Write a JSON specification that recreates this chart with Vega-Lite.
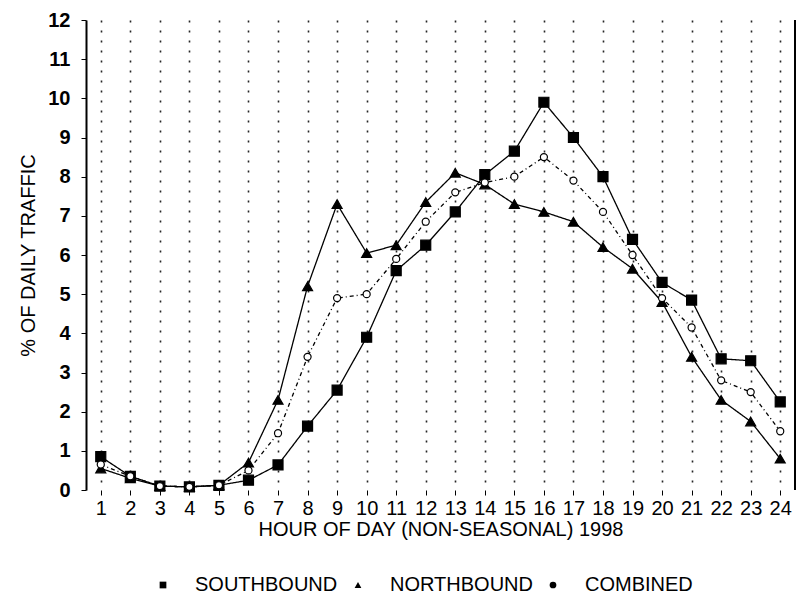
{
  "$schema": "https://vega.github.io/schema/vega-lite/v6.json",
  "autosize": "none",
  "width": 709,
  "height": 470,
  "padding": {"left": 86, "top": 20, "right": 6, "bottom": 105},
  "background": "white",
  "config": {
    "view": {"stroke": null},
    "font": "Liberation Sans",
    "axis": {"labelFont": "Liberation Sans", "titleFont": "Liberation Sans", "labelColor": "black", "titleColor": "black", "domainColor": "black", "tickColor": "black"},
    "legend": {
      "labelFont": "Liberation Sans", "orient": "none", "direction": "horizontal",
      "legendX": 67, "legendY": 555,
      "labelFontSize": 20, "labelColor": "black",
      "symbolSize": 45, "symbolFillColor": "black", "symbolStrokeColor": "black", "symbolStrokeWidth": 1,
      "columnPadding": 10, "labelOffset": 22, "title": null
    }
  },
  "data": {
    "values": [
      {"hour": 1, "series": "SOUTHBOUND", "pct": 0.85},
      {"hour": 2, "series": "SOUTHBOUND", "pct": 0.35},
      {"hour": 3, "series": "SOUTHBOUND", "pct": 0.1},
      {"hour": 4, "series": "SOUTHBOUND", "pct": 0.08},
      {"hour": 5, "series": "SOUTHBOUND", "pct": 0.12},
      {"hour": 6, "series": "SOUTHBOUND", "pct": 0.25},
      {"hour": 7, "series": "SOUTHBOUND", "pct": 0.64},
      {"hour": 8, "series": "SOUTHBOUND", "pct": 1.63},
      {"hour": 9, "series": "SOUTHBOUND", "pct": 2.55},
      {"hour": 10, "series": "SOUTHBOUND", "pct": 3.9},
      {"hour": 11, "series": "SOUTHBOUND", "pct": 5.6},
      {"hour": 12, "series": "SOUTHBOUND", "pct": 6.25},
      {"hour": 13, "series": "SOUTHBOUND", "pct": 7.1},
      {"hour": 14, "series": "SOUTHBOUND", "pct": 8.05},
      {"hour": 15, "series": "SOUTHBOUND", "pct": 8.65},
      {"hour": 16, "series": "SOUTHBOUND", "pct": 9.9},
      {"hour": 17, "series": "SOUTHBOUND", "pct": 9.0},
      {"hour": 18, "series": "SOUTHBOUND", "pct": 8.0},
      {"hour": 19, "series": "SOUTHBOUND", "pct": 6.4},
      {"hour": 20, "series": "SOUTHBOUND", "pct": 5.3},
      {"hour": 21, "series": "SOUTHBOUND", "pct": 4.85},
      {"hour": 22, "series": "SOUTHBOUND", "pct": 3.35},
      {"hour": 23, "series": "SOUTHBOUND", "pct": 3.3},
      {"hour": 24, "series": "SOUTHBOUND", "pct": 2.25},
      {"hour": 1, "series": "NORTHBOUND", "pct": 0.55},
      {"hour": 2, "series": "NORTHBOUND", "pct": 0.3},
      {"hour": 3, "series": "NORTHBOUND", "pct": 0.1},
      {"hour": 4, "series": "NORTHBOUND", "pct": 0.08},
      {"hour": 5, "series": "NORTHBOUND", "pct": 0.12},
      {"hour": 6, "series": "NORTHBOUND", "pct": 0.7},
      {"hour": 7, "series": "NORTHBOUND", "pct": 2.3},
      {"hour": 8, "series": "NORTHBOUND", "pct": 5.2},
      {"hour": 9, "series": "NORTHBOUND", "pct": 7.3},
      {"hour": 10, "series": "NORTHBOUND", "pct": 6.05},
      {"hour": 11, "series": "NORTHBOUND", "pct": 6.25},
      {"hour": 12, "series": "NORTHBOUND", "pct": 7.35},
      {"hour": 13, "series": "NORTHBOUND", "pct": 8.1},
      {"hour": 14, "series": "NORTHBOUND", "pct": 7.8},
      {"hour": 15, "series": "NORTHBOUND", "pct": 7.3},
      {"hour": 16, "series": "NORTHBOUND", "pct": 7.1},
      {"hour": 17, "series": "NORTHBOUND", "pct": 6.85},
      {"hour": 18, "series": "NORTHBOUND", "pct": 6.2},
      {"hour": 19, "series": "NORTHBOUND", "pct": 5.65},
      {"hour": 20, "series": "NORTHBOUND", "pct": 4.8},
      {"hour": 21, "series": "NORTHBOUND", "pct": 3.4},
      {"hour": 22, "series": "NORTHBOUND", "pct": 2.3},
      {"hour": 23, "series": "NORTHBOUND", "pct": 1.75},
      {"hour": 24, "series": "NORTHBOUND", "pct": 0.8},
      {"hour": 1, "series": "COMBINED", "pct": 0.65},
      {"hour": 2, "series": "COMBINED", "pct": 0.35},
      {"hour": 3, "series": "COMBINED", "pct": 0.1},
      {"hour": 4, "series": "COMBINED", "pct": 0.08},
      {"hour": 5, "series": "COMBINED", "pct": 0.12},
      {"hour": 6, "series": "COMBINED", "pct": 0.5},
      {"hour": 7, "series": "COMBINED", "pct": 1.45},
      {"hour": 8, "series": "COMBINED", "pct": 3.4},
      {"hour": 9, "series": "COMBINED", "pct": 4.9},
      {"hour": 10, "series": "COMBINED", "pct": 5.0},
      {"hour": 11, "series": "COMBINED", "pct": 5.9},
      {"hour": 12, "series": "COMBINED", "pct": 6.85},
      {"hour": 13, "series": "COMBINED", "pct": 7.6},
      {"hour": 14, "series": "COMBINED", "pct": 7.85},
      {"hour": 15, "series": "COMBINED", "pct": 8.0},
      {"hour": 16, "series": "COMBINED", "pct": 8.5},
      {"hour": 17, "series": "COMBINED", "pct": 7.9},
      {"hour": 18, "series": "COMBINED", "pct": 7.1},
      {"hour": 19, "series": "COMBINED", "pct": 6.0},
      {"hour": 20, "series": "COMBINED", "pct": 4.9},
      {"hour": 21, "series": "COMBINED", "pct": 4.15},
      {"hour": 22, "series": "COMBINED", "pct": 2.8},
      {"hour": 23, "series": "COMBINED", "pct": 2.5},
      {"hour": 24, "series": "COMBINED", "pct": 1.5}
    ]
  },
  "encoding": {
    "x": {
      "field": "hour", "type": "quantitative",
      "scale": {"domain": [0.5, 24.5], "nice": false, "zero": false},
      "axis": {
        "title": "HOUR OF DAY (NON-SEASONAL) 1998",
        "titleFontSize": 20, "titleFontWeight": "normal", "titlePadding": 1,
        "values": [1,2,3,4,5,6,7,8,9,10,11,12,13,14,15,16,17,18,19,20,21,22,23,24],
        "labelFontSize": 20, "labelPadding": 3,
        "grid": true, "gridColor": "black", "gridDash": [2, 8], "gridWidth": 1.6, "gridOpacity": 0.85,
        "domain": false, "ticks": true, "tickSize": 5
      }
    },
    "y": {
      "field": "pct", "type": "quantitative",
      "scale": {"domain": [0, 12], "nice": false},
      "axis": {
        "title": "% OF DAILY TRAFFIC",
        "titleFontSize": 20, "titleFontWeight": "normal", "titlePadding": 9,
        "values": [0,1,2,3,4,5,6,7,8,9,10,11,12],
        "labelFontSize": 20, "labelFontWeight": "bold", "labelPadding": 11,
        "grid": false, "domainWidth": 2, "tickSize": 5
      }
    }
  },
  "layer": [
    {
      "mark": {"type": "line", "color": "black", "strokeWidth": 1.3},
      "encoding": {
        "detail": {"field": "series"},
        "strokeDash": {
          "field": "series", "type": "nominal",
          "scale": {"domain": ["SOUTHBOUND", "NORTHBOUND", "COMBINED"], "range": [[1, 0], [1, 0], [4, 3, 1, 3]]}
        }
      }
    },
    {
      "mark": {"type": "point", "filled": false, "stroke": "black", "strokeWidth": 1.2, "opacity": 1},
      "encoding": {
        "shape": {
          "field": "series", "type": "nominal",
          "scale": {"domain": ["SOUTHBOUND", "NORTHBOUND", "COMBINED"], "range": ["square", "triangle-up", "circle"]}
        },
        "fill": {
          "condition": {"test": "datum.series === 'COMBINED'", "value": "white"},
          "value": "black"
        },
        "size": {
          "condition": {"test": "datum.series === 'COMBINED'", "value": 50},
          "value": 100
        }
      }
    },
    {
      "data": {"values": [{"edge": 24.5}]},
      "mark": {"type": "rule", "color": "black", "strokeWidth": 2},
      "encoding": {"x": {"field": "edge", "type": "quantitative"}, "y": null}
    }
  ]
}
